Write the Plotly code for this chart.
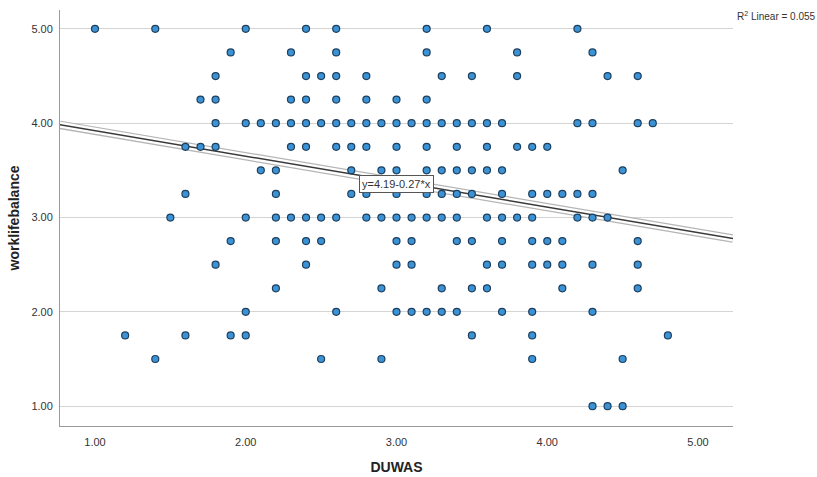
import plotly.graph_objects as go

# Observations grouped by worklifebalance level -> DUWAS scores
wlb_levels = [5.00, 4.75, 4.50, 4.25, 4.00, 3.75, 3.50, 3.25, 3.00, 2.75, 2.50, 2.25, 2.00, 1.75, 1.50, 1.00]
duwas_by_level = [
    [1.0, 1.4, 2.0, 2.4, 2.6, 3.2, 3.6, 4.2],
    [1.9, 2.3, 2.6, 3.2, 3.8, 4.3],
    [1.8, 2.4, 2.5, 2.6, 2.8, 3.3, 3.5, 3.8, 4.4, 4.6],
    [1.7, 1.8, 2.3, 2.4, 2.6, 2.8, 3.0, 3.2],
    [1.8, 2.0, 2.1, 2.2, 2.3, 2.4, 2.5, 2.6, 2.7, 2.8, 2.9, 3.0, 3.1, 3.2, 3.3, 3.4, 3.5, 3.6, 3.7, 4.2, 4.3, 4.6, 4.7],
    [1.6, 1.7, 1.8, 2.3, 2.4, 2.6, 2.7, 2.8, 3.0, 3.2, 3.4, 3.6, 3.8, 3.9, 4.0],
    [2.1, 2.2, 2.7, 2.9, 3.0, 3.2, 3.3, 3.4, 3.5, 3.6, 3.7, 4.5],
    [1.6, 2.2, 2.7, 2.8, 3.0, 3.2, 3.3, 3.4, 3.5, 3.7, 3.9, 4.0, 4.1, 4.2, 4.3],
    [1.5, 2.0, 2.2, 2.3, 2.4, 2.5, 2.6, 2.8, 2.9, 3.0, 3.1, 3.2, 3.3, 3.4, 3.6, 3.7, 3.8, 3.9, 4.2, 4.3, 4.4],
    [1.9, 2.2, 2.4, 2.5, 3.0, 3.1, 3.4, 3.5, 3.7, 3.9, 4.0, 4.1, 4.6],
    [1.8, 2.4, 3.0, 3.1, 3.6, 3.7, 3.9, 4.0, 4.1, 4.3, 4.6],
    [2.2, 2.9, 3.3, 3.5, 3.6, 4.1, 4.6],
    [2.0, 2.6, 3.0, 3.1, 3.2, 3.3, 3.4, 3.7, 3.9, 4.3],
    [1.2, 1.6, 1.9, 2.0, 3.5, 3.9, 4.8],
    [1.4, 2.5, 2.9, 3.9, 4.5],
    [4.3, 4.4, 4.5],
]

# Linear fit: y = 4.19 - 0.27 * x, R^2 = 0.055
fit_intercept = 4.19
fit_slope = -0.27
r_squared = 0.055

x_ticks = [1, 2, 3, 4, 5]
y_ticks = [1, 2, 3, 4, 5]
x_range = [0.768, 5.232]
y_range = [0.79, 5.2]

duwas = [x for lvl, xs in zip(wlb_levels, duwas_by_level) for x in xs]
wlb = [lvl for lvl, xs in zip(wlb_levels, duwas_by_level) for _ in xs]

fig = go.Figure()

fit_x = x_range
fit_y = [fit_intercept + fit_slope * v for v in fit_x]
# Outlined fit line: grey halo, white band, dark core
for color, width in [("#b5b5b5", 8.5), ("#ffffff", 6), ("#3a3a3a", 1.5)]:
    fig.add_trace(go.Scatter(x=fit_x, y=fit_y, mode="lines",
                             line=dict(color=color, width=width),
                             hoverinfo="skip", showlegend=False))

fig.add_trace(go.Scatter(
    x=duwas, y=wlb, mode="markers",
    marker=dict(size=7, color="#3b93d6", line=dict(color="#1d3f5e", width=1.2)),
    showlegend=False,
))

fig.add_annotation(
    x=3.0, y=fit_intercept + fit_slope * 3.0 - 0.02, xref="x", yref="y",
    text=f"y={fit_intercept:.2f}{fit_slope:.2f}*x", showarrow=False,
    font=dict(family="Liberation Sans, Arial", size=11, color="#333333"),
    bgcolor="#ffffff", bordercolor="#555555", borderwidth=1, borderpad=2,
)

fig.add_annotation(
    x=1.0, y=1.0, xref="paper", yref="paper", xanchor="left", yanchor="top",
    xshift=2, yshift=2,
    text=f"R<sup>2</sup> Linear = {r_squared:.3f}", showarrow=False,
    font=dict(family="Liberation Sans, Arial", size=10, color="#333333"),
)

fig.update_layout(
    width=817, height=477,
    margin=dict(l=60, r=84, t=10, b=51),
    paper_bgcolor="#ffffff", plot_bgcolor="#ffffff",
    font=dict(family="Liberation Sans, Arial", size=11, color="#333333"),
)
fig.update_xaxes(
    range=x_range, tickvals=x_ticks, ticktext=[f"{v:.2f}" for v in x_ticks],
    showgrid=False, zeroline=False, showline=True, linecolor="#9a9a9a", linewidth=1,
    ticks="", ticklabelstandoff=6, automargin=False,
    title=dict(text="<b>DUWAS</b>", font=dict(size=14, color="#222222"), standoff=14),
)
fig.update_yaxes(
    range=y_range, tickvals=y_ticks, ticktext=[f"{v:.2f}" for v in y_ticks],
    showgrid=True, gridcolor="#d4d4d4", gridwidth=1,
    zeroline=False, showline=True, linecolor="#9a9a9a", linewidth=1,
    ticks="", ticklabelstandoff=4, automargin=False,
    title=dict(text="<b>worklifebalance</b>", font=dict(size=14, color="#222222"), standoff=8),
)

fig.write_html("out.html")
